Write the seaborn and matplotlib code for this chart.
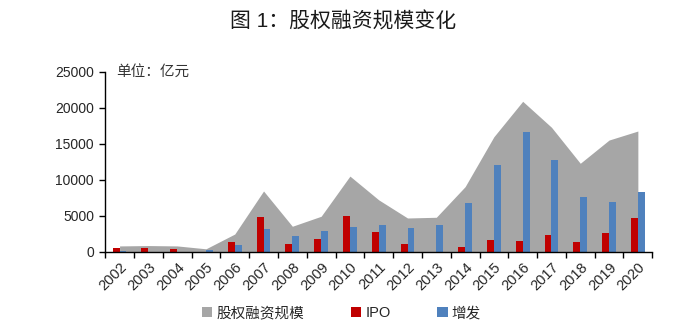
import matplotlib
matplotlib.use("Agg")
import matplotlib.pyplot as plt
import seaborn as sns
import pandas as pd
import numpy as np
from matplotlib.patches import Patch

years = [str(y) for y in range(2002, 2021)]
total = [800, 850, 800, 400, 2450, 8430, 3530, 4920, 10500, 7200, 4680, 4780,
         9030, 15970, 20890, 17280, 12280, 15510, 16760]
ipo = [470, 470, 330, 0, 1340, 4820, 1070, 1760, 4920, 2740, 1070, 0,
       650, 1580, 1490, 2320, 1390, 2560, 4680]
sfo = [150, 0, 0, 280, 970, 3200, 2180, 2870, 3430, 3750, 3340, 3660,
       6720, 12090, 16630, 12740, 7550, 6900, 8330]
series_names = ["股权融资规模", "IPO", "增发"]
colors = ["#A6A6A6", "#C00000", "#4F81BD"]

sns.set_theme(style="white")
plt.rcParams["font.family"] = ["Liberation Sans", "Noto Sans CJK SC", "DejaVu Sans"]

fig = plt.figure(figsize=(6.83, 3.29), dpi=100)
ax = fig.add_axes([0.154, 0.235, 0.801, 0.547])

df = pd.DataFrame({
    "year": years * 2,
    "value": ipo + sfo,
    "series": ["IPO"] * len(years) + ["增发"] * len(years),
})

pos = np.arange(len(years))
ax.fill_between(pos, total, 0, color=colors[0], linewidth=0, zorder=1)
sns.barplot(data=df, x="year", y="value", hue="series", order=years,
            hue_order=["IPO", "增发"], palette=colors[1:], width=0.48,
            gap=0, ax=ax, legend=False, zorder=2, linewidth=0, saturation=1)

ax.set_xlim(-0.5, len(years) - 0.5)
ax.set_ylim(0, 25000)
ax.set_yticks(range(0, 25001, 5000))
ax.set_yticklabels([str(v) for v in range(0, 25001, 5000)], fontsize=10)
ax.set_xticks(pos)
ax.set_xticklabels(years, rotation=45, ha="right", rotation_mode="anchor", fontsize=10.5)
ax.tick_params(axis="x", which="major", length=0, pad=6)
ax.set_xticks(np.arange(-0.5, len(years)), minor=True)
ax.tick_params(axis="x", which="minor", length=4, width=1, color="black", direction="out", bottom=True)
ax.tick_params(axis="y", length=4, width=1, color="black", direction="out", left=True, pad=4)
ax.set_xlabel("")
ax.set_ylabel("")
for s in ["top", "right"]:
    ax.spines[s].set_visible(False)
for s in ["left", "bottom"]:
    ax.spines[s].set_color("black")
    ax.spines[s].set_linewidth(1)

ax.text(0.02, 1.0, "单位：亿元", transform=ax.transAxes, fontsize=10.5,
        ha="left", va="center", color="#333333")

fig.text(0.502, 0.935, "图 1：股权融资规模变化", ha="center", va="center",
         fontsize=15, fontweight="medium", color="#1a1a1a")

handles = [Patch(facecolor=c, edgecolor="none", label=n) for c, n in zip(colors, series_names)]
fig.legend(handles=handles, loc="center", bbox_to_anchor=(0.5, 0.048), ncol=3,
           frameon=False, fontsize=10.5, handlelength=0.7, handleheight=0.7,
           handletextpad=0.3, columnspacing=3.2)

fig.savefig("out.png", dpi=100)
